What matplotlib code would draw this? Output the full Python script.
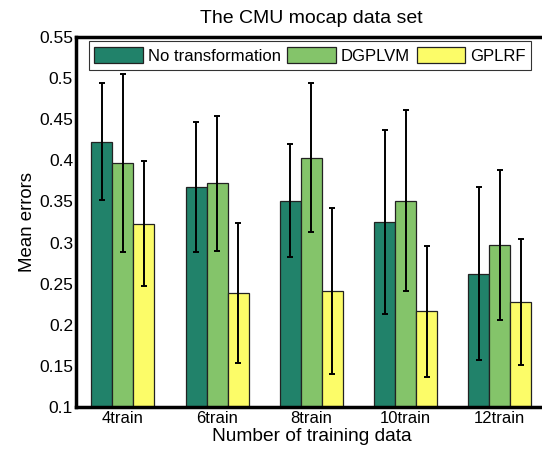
import numpy as np
import matplotlib
matplotlib.use("Agg")
from matplotlib import pyplot as plt

plt.rcParams['font.family'] = ['Liberation Sans', 'DejaVu Sans']

# data
groups = ['4train', '6train', '8train', '10train', '12train']
series = ['No transformation', 'DGPLVM', 'GPLRF']
no_trans = [0.4225, 0.3674, 0.3510, 0.3245, 0.2621]
no_trans_err = [0.071, 0.079, 0.069, 0.112, 0.105]
dgplvm = [0.3968, 0.3719, 0.4033, 0.3507, 0.2968]
dgplvm_err = [0.108, 0.082, 0.091, 0.110, 0.091]
gplrf = [0.3229, 0.2388, 0.2408, 0.2163, 0.2278]
gplrf_err = [0.076, 0.085, 0.101, 0.080, 0.077]
yticks = [0.1, 0.15, 0.2, 0.25, 0.3, 0.35, 0.4, 0.45, 0.5, 0.55]
ytick_labels = ['0.1', '0.15', '0.2', '0.25', '0.3', '0.35', '0.4', '0.45', '0.5', '0.55']

colors = ['#21826A', '#84C46A', '#FCFC68']

fig = plt.figure(figsize=(5.42, 4.51), dpi=100)
ax = fig.add_axes([0.140, 0.0976, 0.869, 0.8204])

x = np.arange(1, len(groups) + 1)
width = 0.223
values = [no_trans, dgplvm, gplrf]
errors = [no_trans_err, dgplvm_err, gplrf_err]

for i, (vals, errs) in enumerate(zip(values, errors)):
    pos = x + (i - 1) * width
    ax.bar(pos, vals, width, color=colors[i], edgecolor='#222222',
           linewidth=0.9, label=series[i], zorder=2)
    ax.errorbar(pos, vals, yerr=errs, fmt='none', ecolor='black',
                elinewidth=1.4, capsize=2.5, capthick=1.4, zorder=3)

ax.set_xlim(0.5, 5.5)
ax.set_ylim(0.1, 0.55)
ax.set_xticks(x)
ax.set_xticklabels(groups, fontsize=12)
ax.set_yticks(yticks)
ax.set_yticklabels(ytick_labels, fontsize=12.5)
ax.tick_params(axis='x', length=0, pad=3)
ax.tick_params(axis='y', length=0, pad=2)

for s in ax.spines.values():
    s.set_linewidth(2.5)

ax.set_title('The CMU mocap data set', fontsize=14, pad=10)
ax.set_xlabel('Number of training data', fontsize=13.8, labelpad=1)
ax.set_ylabel('Mean errors', fontsize=13.4, labelpad=2)

leg = ax.legend(ncol=3, loc='upper left', bbox_to_anchor=(0.027, 0.988),
                fontsize=12, frameon=True, fancybox=False,
                handlelength=2.9, handleheight=1.1, handletextpad=0.3,
                columnspacing=0.4, borderpad=0.35, borderaxespad=0.0)
leg.get_frame().set_edgecolor('black')
leg.get_frame().set_linewidth(0.8)

fig.savefig('out.png', dpi=100)
